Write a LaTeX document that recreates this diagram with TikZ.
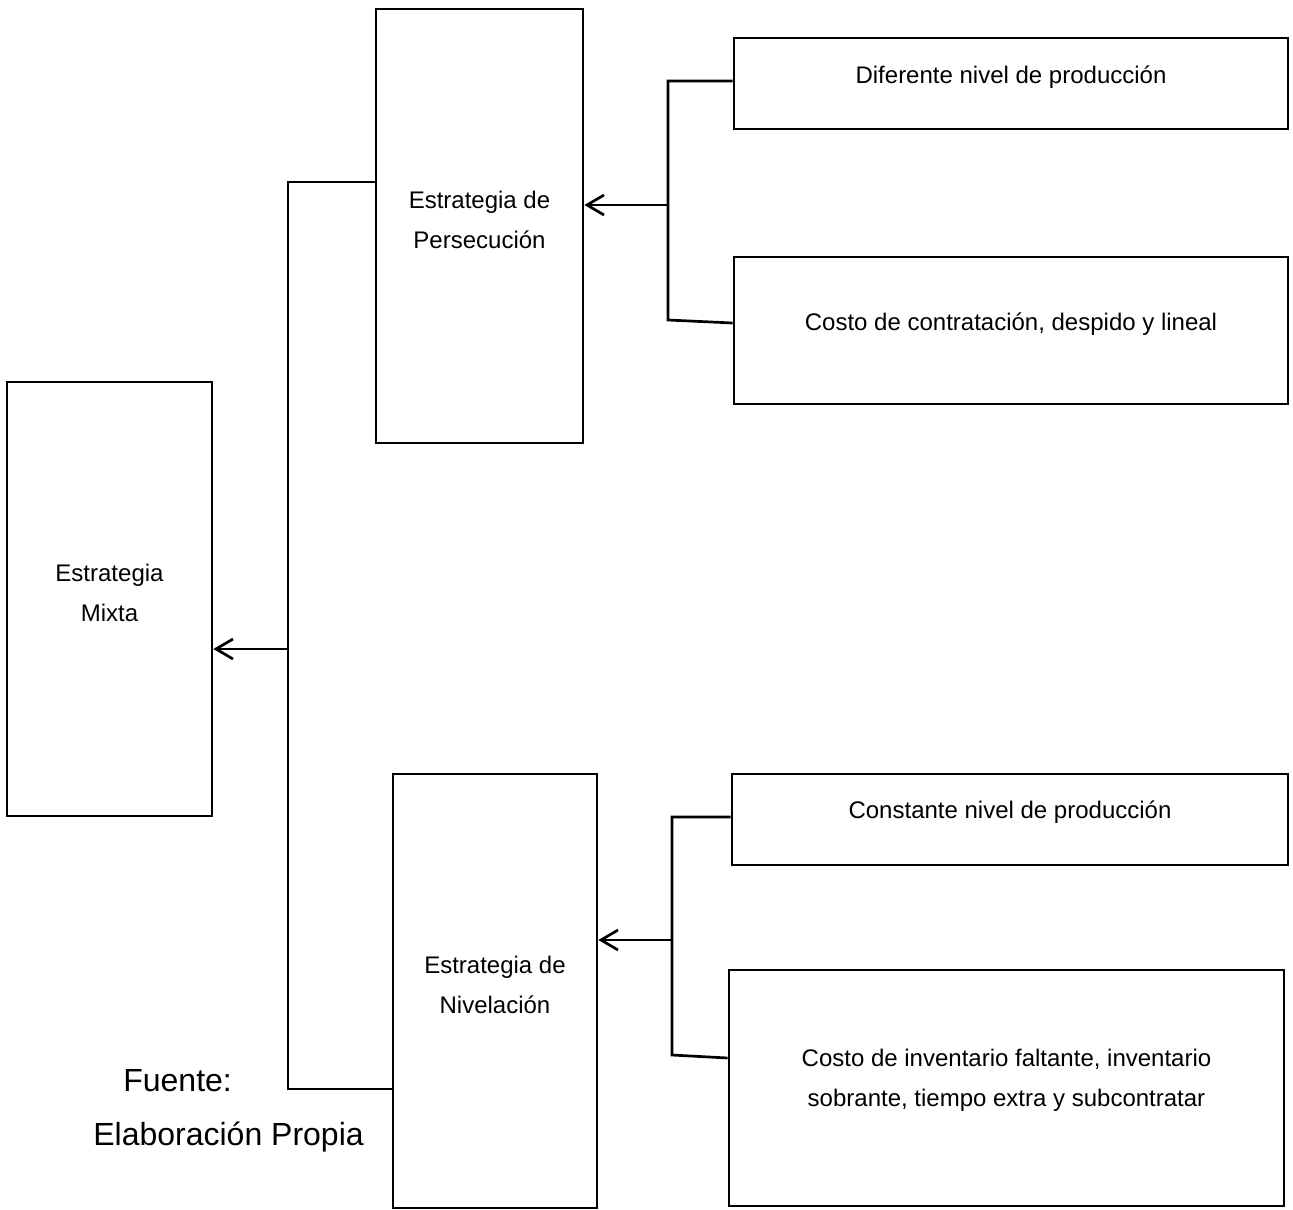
\documentclass[tikz,border=0pt]{standalone}
\usepackage{fontspec}
\setmainfont{Liberation Sans}
\usetikzlibrary{arrows.meta,calc}

\begin{document}
\begin{tikzpicture}[x=1pt,y=-1pt,
  line width=2.7pt, line join=miter,
  box/.style={draw, rectangle, inner sep=0pt, minimum width=#1},
  txt/.style={font=\fontsize{24pt}{40pt}\selectfont, align=center, inner sep=0pt},
  big/.style={font=\fontsize{32pt}{38pt}\selectfont, inner sep=0pt, anchor=west},
  arr/.style={-{Straight Barb[length=17pt,width=20pt]}},
]
\useasboundingbox (0,0) rectangle (1293,1210);

% boxes
\node[box=205pt, minimum height=434pt,
  label={[txt,yshift=6pt]center:Estrategia\\Mixta}] (mixta) at (109.5,599) {};
\node[box=207pt, minimum height=434pt,
  label={[txt,yshift=6pt]center:Estrategia de\\Persecución}] (pers) at (479.5,226) {};
\node[box=204pt, minimum height=434pt,
  label={[txt,yshift=6pt]center:Estrategia de\\Nivelación}] (nivel) at (495,991) {};

\node[box=554pt, minimum height=91pt,
  label={[txt,yshift=6pt]center:Diferente nivel de producción}] (dif) at (1011,83.5) {};
\node[box=554pt, minimum height=147pt,
  label={[txt,yshift=6pt]center:Costo de contratación, despido y lineal}] (cct) at (1011,330.5) {};
\node[box=556pt, minimum height=91pt,
  label={[txt,yshift=7pt]center:Constante nivel de producción}] (cons) at (1010,819.5) {};
\node[box=555pt, minimum height=236pt,
  label={[txt,yshift=8pt]center:Costo de inventario faltante, inventario\\sobrante, tiempo extra y subcontratar}] (cinv) at (1006.5,1088) {};

% source note
\node[big] (fuente) at (122,1081) {Fuente:};
\node[big] (elab) at (92,1137) {Elaboración Propia};

% left tree
\coordinate (l1) at (288,182);
\coordinate (l2) at (288,1089);
\coordinate (l3) at (288,649);
\draw (pers.west |- l1) -- (l1) -- (l2) -- (nivel.west |- l2);
\draw[arr] (l3) -- (mixta.east |- l3);

% upper right tree
\coordinate (u1) at (668,81);
\coordinate (u2) at (668,320);
\coordinate (u3) at (668,205);
\draw (dif.west |- u1) -- (u1) -- (u2) -- ($(cct.west |- u2)+(0,3)$);
\draw[arr] (u3) -- (pers.east |- u3);

% lower right tree
\coordinate (d1) at (672,817);
\coordinate (d2) at (672,1055);
\coordinate (d3) at (672,940);
\draw (cons.west |- d1) -- (d1) -- (d2) -- ($(cinv.west |- d2)+(0,3)$);
\draw[arr] (d3) -- (nivel.east |- d3);
\end{tikzpicture}
\end{document}
